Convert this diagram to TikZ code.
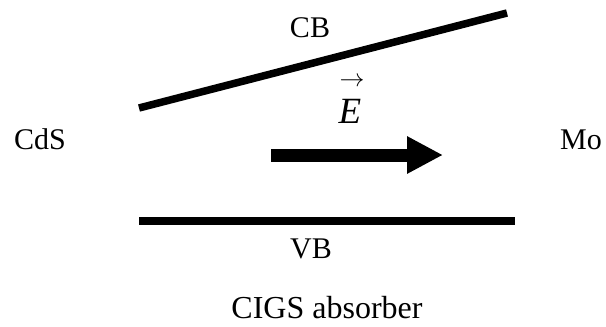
\documentclass[tikz,border=0pt]{standalone}
\usepackage{amsmath}
\usepackage{fontspec}
\setmainfont{Liberation Serif}
\usetikzlibrary{arrows.meta}

\begin{document}
\begin{tikzpicture}[x=1pt,y=-1pt,
  band/.style={line width=7.5pt},
  lbl/.style={font=\fontsize{30}{36}\selectfont,inner sep=0pt,anchor=base}]
\useasboundingbox (0,0) rectangle (606,327);
\draw[band] (139,108) -- (507,13);
\draw[band] (139,221) -- (515,221);
\coordinate (estart) at (271,155);
\coordinate (eend) at (443,155);
\draw[line width=13pt,-{Triangle[length=36pt,width=35pt]}] (estart) -- (eend);
\node[lbl] (cb) at (310,37) {CB};
\node[lbl] (vb) at (311,258) {VB};
\node[lbl] (cds) at (40,149) {CdS};
\node[lbl] (mo) at (581,149) {Mo};
\node[lbl,font=\fontsize{32}{38}\selectfont] (cigs) at (327,318) {CIGS absorber};
\node[lbl,font=\fontsize{37}{44}\selectfont] (efield) at (350,123) {\textit{E}};
\node[font=\fontsize{24}{28}\selectfont,inner sep=0pt] (evec) at (352,82) {$\rightarrow$};
\end{tikzpicture}
\end{document}
